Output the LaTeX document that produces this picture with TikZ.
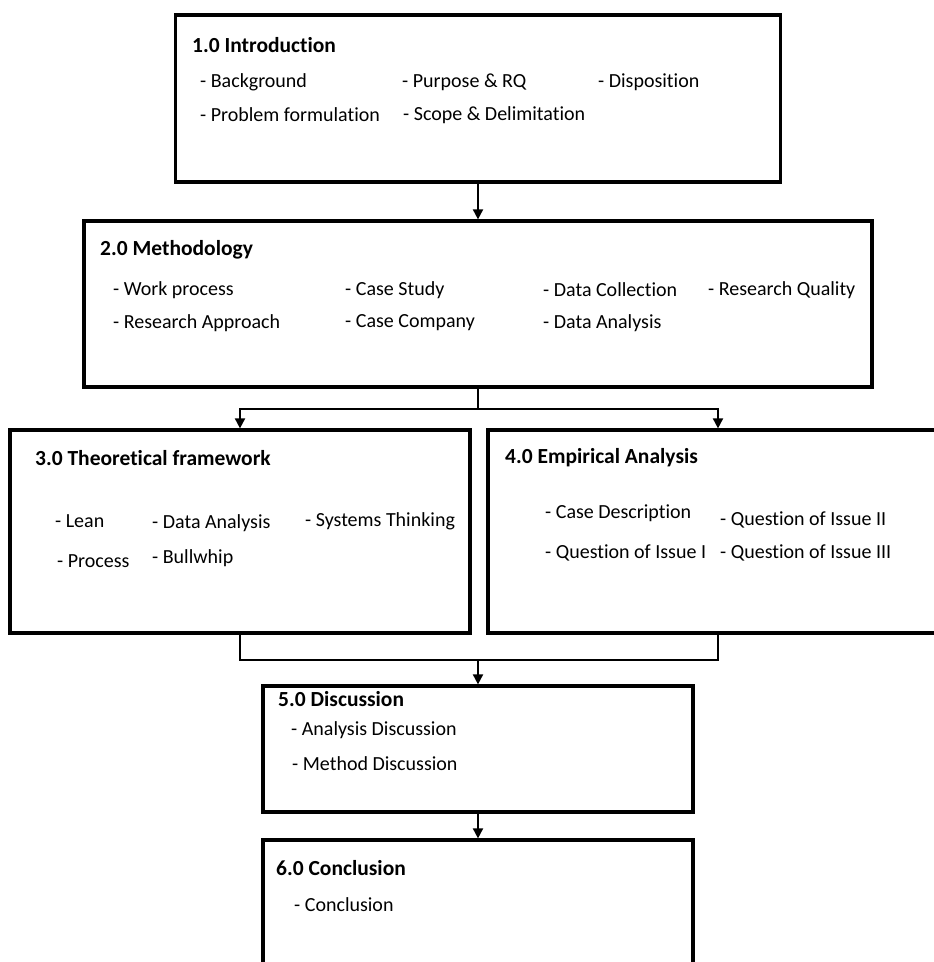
\documentclass[tikz,border=0pt]{standalone}
\usepackage{fontspec}
\setmainfont{Carlito}[Ligatures={NoCommon}]
\usetikzlibrary{arrows.meta}

\begin{document}
\begin{tikzpicture}[x=1pt, y=-1pt, font=\fontsize{20}{24}\selectfont,
  box/.style={draw, line width=3.2pt, inner sep=0pt},
  item/.style={anchor=west, inner sep=0pt},
  head/.style={anchor=west, inner sep=0pt, font=\fontsize{21.5}{25}\selectfont\bfseries},
  link/.style={line width=1.8pt},
  arr/.style={link, -{Triangle[length=10pt, width=10pt]}}]
\useasboundingbox (0,0) rectangle (934,962);

% boxes
\node[box, minimum width=605pt, minimum height=167pt] (intro) at (478,98.5) {};
\node[box, minimum width=788pt, minimum height=166pt] (meth) at (478,304) {};
\node[box, minimum width=460pt, minimum height=203pt] (theo) at (240,531.5) {};
\node[box, minimum width=460pt, minimum height=203pt] (emp) at (718,531.5) {};
\node[box, minimum width=430pt, minimum height=126pt] (disc) at (478,749) {};
\node[box, minimum width=430pt, minimum height=150pt] (concl) at (478,915) {};

% headings
\node[head] (introhead) at (192,45) {1.0 Introduction};
\node[head] (methhead) at (100,250) {2.0 Methodology};
\node[head] (theohead) at (35,458) {3.0 Theoretical framework};
\node[head] (emphead) at (505,458) {4.0 Empirical Analysis};
\node[head] (dischead) at (278,699) {5.0 Discussion};
\node[head] (conclhead) at (276,868) {6.0 Conclusion};

% items
\foreach \x/\y/\t [count=\i] in {200/82/Background, 402/82/Purpose \& RQ, 598/82/Disposition,
    200/115/Problem formulation, 403/115/Scope \& Delimitation}
  \node[item] (intro\i) at (\x,\y) {- \t};
\foreach \x/\y/\t [count=\i] in {113/290/Work process, 345/290/Case Study, 543/290/Data Collection,
    708/290/Research Quality, 113/323/Research Approach, 345/323/Case Company, 543/323/Data Analysis}
  \node[item] (meth\i) at (\x,\y) {- \t};
\foreach \x/\y/\t [count=\i] in {55/521/Lean, 152/523/Data Analysis, 305/521/Systems Thinking,
    57/561/Process, 152/558/Bullwhip}
  \node[item] (theo\i) at (\x,\y) {- \t};
\foreach \x/\y/\t [count=\i] in {545/513/Case Description, 720/520/Question of Issue II,
    545/553/Question of Issue I, 720/553/Question of Issue III}
  \node[item] (emp\i) at (\x,\y) {- \t};
\foreach \x/\y/\t [count=\i] in {291/730/Analysis Discussion, 292/764/Method Discussion}
  \node[item] (disc\i) at (\x,\y) {- \t};
\node[item] (concl1) at (294,905) {- Conclusion};

% connectors
\coordinate (split) at (478,409);
\coordinate (join) at (478,660);
\draw[arr] (intro.south) -- (meth.north);
\draw[link] (meth.south) -- (split);
\draw[arr] (split) -| (theo.north);
\draw[arr] (split) -| (emp.north);
\draw[link] (theo.south) |- (join) -| (emp.south);
\draw[arr] (join) -- (disc.north);
\draw[arr] (disc.south) -- (concl.north);
\end{tikzpicture}
\end{document}
